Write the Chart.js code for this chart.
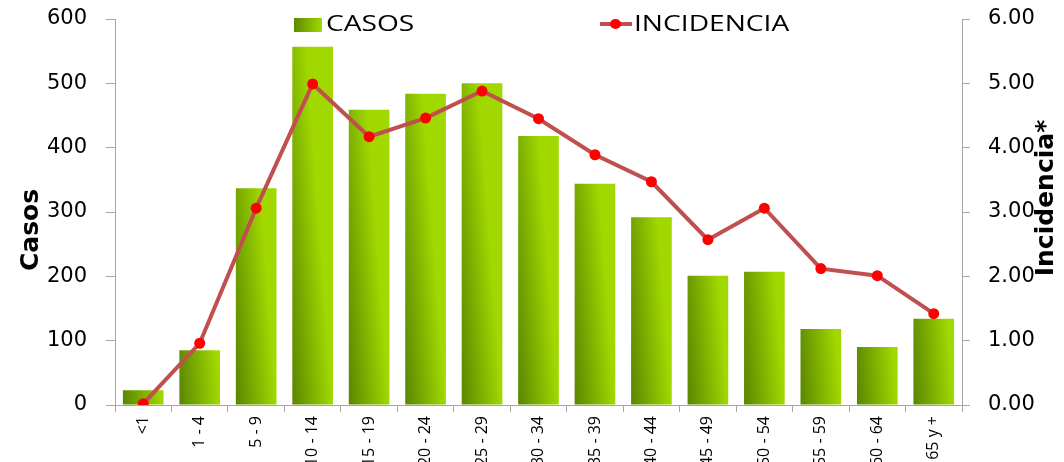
<!DOCTYPE html>
<html>
<head>
<meta charset="utf-8">
<script src="https://cdn.jsdelivr.net/npm/chart.js@4"></script>
<style>
  html, body { margin: 0; padding: 0; background: #fff; overflow: hidden; }
  #wrap { position: relative; width: 1064px; height: 462px; }
  .leg { position: absolute; top: 9px; font-family: "Open Sans", sans-serif; font-size: 21px; color: #000; line-height: 28px; white-space: nowrap; }
  .leg .txt { display: inline-block; transform: scaleX(1.34); transform-origin: left center; }
  .leg span.box { display: inline-block; width: 28px; height: 14px; vertical-align: -1px; margin-right: 4px;
    background: linear-gradient(95deg, #5b8700, #a3db00); }
  .leg span.mk { display: inline-block; position: relative; width: 32px; height: 14px; vertical-align: 0px; margin-right: 2px; }
  .leg span.mk:before { content: ""; position: absolute; left: 0; right: 0; top: 5px; height: 4px; background: #c0504d; }
  .leg span.mk:after { content: ""; position: absolute; left: 10px; top: 2px; width: 11px; height: 10px; border-radius: 50%; background: #ff0000; }
</style>
</head>
<body>
<div id="wrap">
  <canvas id="grafica" width="1064" height="462"></canvas>
  <div class="leg" style="left:294px"><span class="box"></span><span class="txt">CASOS</span></div>
  <div class="leg" style="left:600px"><span class="mk"></span><span class="txt">INCIDENCIA</span></div>
</div>
<script>
var grupos = ["<1", "1 - 4", "5 - 9", "10 - 14", "15 - 19", "20 - 24", "25 - 29", "30 - 34",
  "35 - 39", "40 - 44", "45 - 49", "50 - 54", "55 - 59", "60 - 64", "65 y +"];
var casos = [23, 85, 337, 557, 459, 484, 500, 418, 344, 292, 201, 207, 118, 90, 134];
var incidencia = [0.02, 0.96, 3.06, 4.99, 4.17, 4.46, 4.88, 4.45, 3.89, 3.47, 2.57, 3.06, 2.12, 2.01, 1.42];

function verdeBarra(ctx) {
  var chart = ctx.chart;
  var area = chart.chartArea;
  if (!area || ctx.type !== 'data') return '#8bc000';
  var x = chart.scales.x.getPixelForValue(ctx.dataIndex);
  var w = 20;
  var g = chart.ctx.createLinearGradient(x - w, area.bottom, x + w, area.bottom - 3);
  g.addColorStop(0, '#5a8600');
  g.addColorStop(1, '#a0d800');
  return g;
}

// quitar el margen que Chart.js deja para medio rotulo
function sinRelleno(s) {
  s.paddingTop = 0;
  s.paddingBottom = 0;
}

// titulos de ejes (el derecho se lee de abajo hacia arriba)
var titulos = {
  id: 'titulos',
  afterDraw: function (chart) {
    var c = chart.ctx;
    c.save();
    c.fillStyle = '#000';
    c.font = 'bold 25px "DejaVu Sans", sans-serif';
    c.textAlign = 'center';
    c.textBaseline = 'middle';
    c.translate(31, 230);
    c.rotate(-Math.PI / 2);
    c.fillText('Casos', 0, 0);
    c.restore();
    c.save();
    c.fillStyle = '#000';
    c.font = 'bold 25px "DejaVu Sans", sans-serif';
    c.textAlign = 'center';
    c.textBaseline = 'middle';
    c.translate(1046, 198);
    c.rotate(-Math.PI / 2);
    c.fillText('Incidencia*', 0, 0);
    c.restore();
  }
};

new Chart(document.getElementById('grafica'), {
  data: {
    labels: grupos,
    datasets: [
      {
        type: 'line',
        label: 'INCIDENCIA',
        data: incidencia,
        yAxisID: 'y1',
        borderColor: '#c0504d',
        borderWidth: 4,
        pointBackgroundColor: '#ff0000',
        pointBorderWidth: 0,
        pointRadius: 5.5,
        tension: 0,
        order: 1
      },
      {
        type: 'bar',
        label: 'CASOS',
        data: casos,
        yAxisID: 'y',
        backgroundColor: verdeBarra,
        categoryPercentage: 1,
        barPercentage: 0.72,
        order: 2
      }
    ]
  },
  options: {
    responsive: false,
    animation: false,
    layout: { padding: { top: 19, left: 0, right: 0, bottom: 0 } },
    plugins: { legend: { display: false }, tooltip: { enabled: false } },
    scales: {
      x: {
        grid: { drawOnChartArea: false, color: '#a6a6a6', tickLength: 7 },
        border: { color: '#a6a6a6' },
        ticks: {
          autoSkip: false, minRotation: 90, maxRotation: 90, color: '#000', padding: 4,
          font: { family: '"Open Sans", sans-serif', size: 16 }
        },
        afterFit: function (s) { s.height = 57; s.paddingLeft = 0; s.paddingRight = 0; }
      },
      y: {
        position: 'left',
        min: 0, max: 600,
        ticks: { stepSize: 100, color: '#000', padding: 19, font: { family: '"DejaVu Sans", sans-serif', size: 21 } },
        grid: { drawOnChartArea: false, color: '#a6a6a6', tickLength: 9 },
        border: { color: '#a6a6a6' },
        afterFit: function (s) { s.width = 115; sinRelleno(s); }
      },
      y1: {
        position: 'right',
        min: 0, max: 6,
        ticks: {
          stepSize: 1, color: '#000', padding: 18, font: { family: '"DejaVu Sans", sans-serif', size: 21 },
          callback: function (v) { return v.toFixed(2); }
        },
        grid: { drawOnChartArea: false, color: '#a6a6a6', tickLength: 8 },
        border: { color: '#a6a6a6' },
        afterFit: function (s) { s.width = 102; sinRelleno(s); }
      }
    }
  },
  plugins: [titulos]
});
</script>
</body>
</html>
